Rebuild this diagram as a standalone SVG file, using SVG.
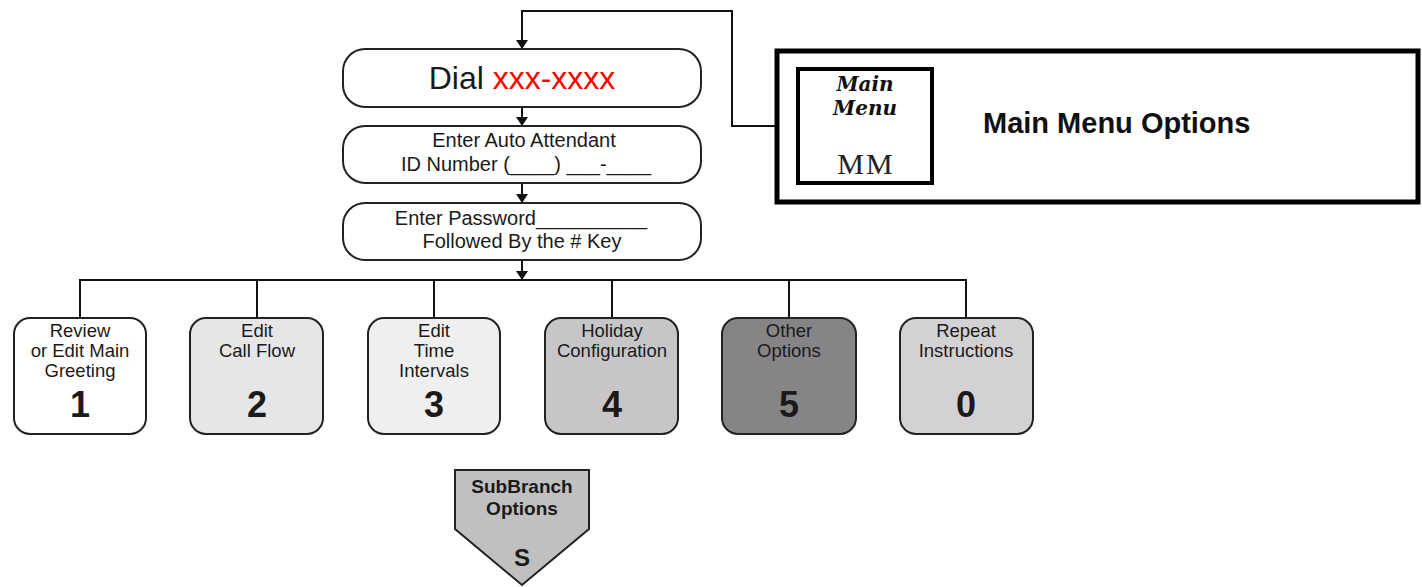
<svg xmlns="http://www.w3.org/2000/svg" width="1422" height="587" viewBox="0 0 1422 587">
<defs>
<marker id="arr" markerUnits="userSpaceOnUse" markerWidth="10" markerHeight="12" refX="9" refY="6" orient="auto">
<path d="M0,0 L9,6 L0,12 z" fill="#111"/>
</marker>
<style>
.ln{fill:none;stroke:#111;stroke-width:2}
.box{stroke:#222;stroke-width:2}
.t{font-family:"Liberation Sans",Arial,sans-serif;fill:#1a1a1a;text-anchor:middle}
.s20{font-size:20px}
.s19{font-size:18.5px}
.dig{font-size:36px;font-weight:bold}
.mm{font-family:"DejaVu Serif",serif;font-weight:bold;font-style:italic;font-size:20px;text-anchor:middle;fill:#111}
</style>
</defs>
<rect width="1422" height="587" fill="#fff"/>
<g id="connectors">
<polyline class="ln" points="775,126 732,126 732,11 522,11 522,49" marker-end="url(#arr)"/>
<line class="ln" x1="522" y1="107" x2="522" y2="126" marker-end="url(#arr)"/>
<line class="ln" x1="522" y1="183" x2="522" y2="203" marker-end="url(#arr)"/>
<line class="ln" x1="522" y1="260" x2="522" y2="280" marker-end="url(#arr)"/>
<line class="ln" x1="79" y1="280" x2="967" y2="280"/>
<line class="ln" x1="80" y1="280" x2="80" y2="318"/>
<line class="ln" x1="257" y1="280" x2="257" y2="318"/>
<line class="ln" x1="434" y1="280" x2="434" y2="318"/>
<line class="ln" x1="612" y1="280" x2="612" y2="318"/>
<line class="ln" x1="789" y1="280" x2="789" y2="318"/>
<line class="ln" x1="966" y1="280" x2="966" y2="318"/>
</g>
<g id="dial">
<rect class="box" x="343" y="49" width="358" height="58" rx="22" fill="#fff"/>
<text class="t" x="522" y="89" font-size="32px"><tspan>Dial </tspan><tspan fill="#ff0000">xxx-xxxx</tspan></text>
</g>
<g id="enter-id">
<rect class="box" x="343" y="126" width="358" height="57" rx="22" fill="#fff"/>
<text class="t s20" x="524" y="147">Enter Auto Attendant</text>
<text class="t s20" x="526" y="171">ID Number (____) ___-____</text>
</g>
<g id="enter-password">
<rect class="box" x="343" y="203" width="358" height="57" rx="22" fill="#fff"/>
<text class="t s20" x="521" y="225">Enter Password__________</text>
<text class="t s20" x="522" y="248">Followed By the # Key</text>
</g>
<g id="main-menu">
<rect x="777" y="51" width="641" height="151" fill="#fff" stroke="#000" stroke-width="5"/>
<rect x="798" y="69" width="134" height="114" fill="#fff" stroke="#000" stroke-width="4"/>
<text class="mm" x="865" y="91">Main</text>
<text class="mm" x="865" y="115">Menu</text>
<text x="866" y="174" font-family="'Liberation Serif',serif" font-size="30px" letter-spacing="2" text-anchor="middle" fill="#222">MM</text>
<text x="983" y="133" font-family="'Liberation Sans',Arial,sans-serif" font-weight="bold" font-size="29px" fill="#111">Main Menu Options</text>
</g>
<g id="opt1">
<rect class="box" x="14" y="318" width="132" height="116" rx="16" fill="#fff"/>
<text class="t s19" x="80" y="337">Review</text>
<text class="t s19" x="80" y="357">or Edit Main</text>
<text class="t s19" x="80" y="377">Greeting</text>
<text class="t dig" x="80" y="417">1</text>
</g>
<g id="opt2">
<rect class="box" x="190" y="318" width="133" height="116" rx="16" fill="#e6e6e6"/>
<text class="t s19" x="257" y="337">Edit</text>
<text class="t s19" x="257" y="357">Call Flow</text>
<text class="t dig" x="257" y="417">2</text>
</g>
<g id="opt3">
<rect class="box" x="368" y="318" width="132" height="116" rx="16" fill="#efefef"/>
<text class="t s19" x="434" y="337">Edit</text>
<text class="t s19" x="434" y="357">Time</text>
<text class="t s19" x="434" y="377">Intervals</text>
<text class="t dig" x="434" y="417">3</text>
</g>
<g id="opt4">
<rect class="box" x="545" y="318" width="133" height="116" rx="16" fill="#c7c5c8"/>
<text class="t s19" x="612" y="337">Holiday</text>
<text class="t s19" x="612" y="357">Configuration</text>
<text class="t dig" x="612" y="417">4</text>
</g>
<g id="opt5">
<rect class="box" x="722" y="318" width="134" height="116" rx="16" fill="#868487"/>
<text class="t s19" x="789" y="337">Other</text>
<text class="t s19" x="789" y="357">Options</text>
<text class="t dig" x="789" y="417">5</text>
</g>
<g id="opt0">
<rect class="box" x="900" y="318" width="133" height="116" rx="16" fill="#d3d1d4"/>
<text class="t s19" x="966" y="337">Repeat</text>
<text class="t s19" x="966" y="357">Instructions</text>
<text class="t dig" x="966" y="417">0</text>
</g>
<g id="subbranch">
<polygon points="455,470 589,470 589,529 522,585 455,529" fill="#c0c0c0" stroke="#222" stroke-width="2"/>
<text class="t" x="522" y="493" font-size="19px" font-weight="bold">SubBranch</text>
<text class="t" x="522" y="515" font-size="19px" font-weight="bold">Options</text>
<text class="t" x="522" y="566" font-size="24px" font-weight="bold">S</text>
</g>
</svg>
